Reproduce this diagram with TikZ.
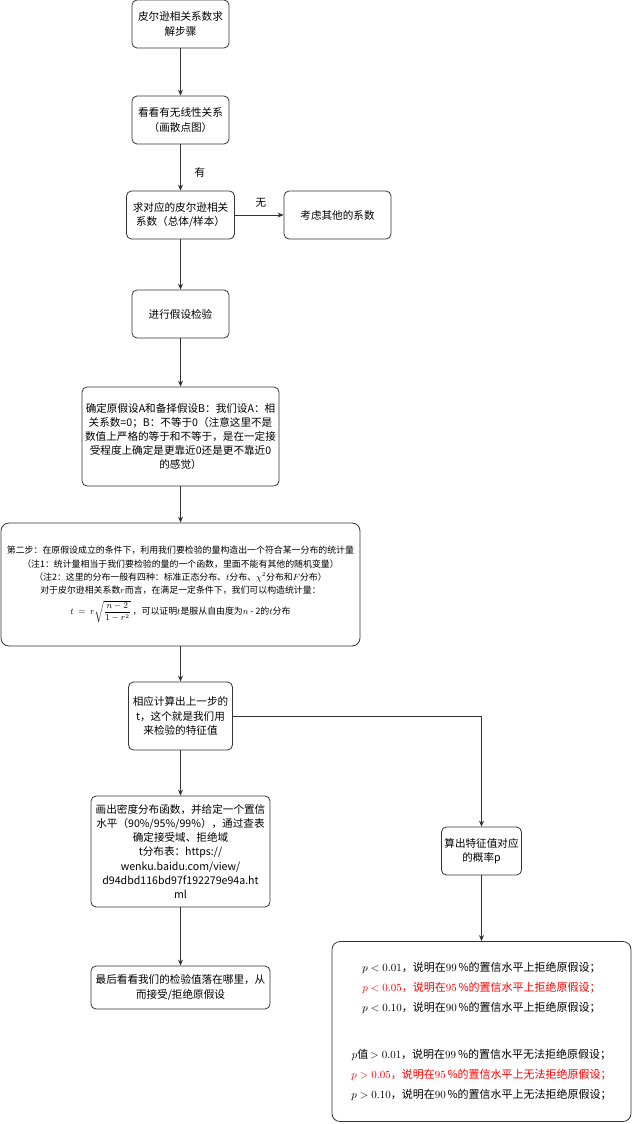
\documentclass[tikz,border=0pt]{standalone}
\usepackage{amsmath}
\usepackage{fontspec}
\setmainfont{Noto Sans CJK SC}
\usetikzlibrary{arrows.meta}
\definecolor{ln}{HTML}{333333}
\tikzset{
  box/.style={draw=ln, line width=0.8pt, rounded corners=5pt, align=center, inner sep=0pt,
    font=\fontsize{10.6}{14.2}\selectfont},
  arr/.style={draw=ln, line width=0.8pt, -{Stealth[length=6pt,width=5pt]}},
  lbl/.style={font=\fontsize{10.6}{13}\selectfont, inner sep=0pt}
}
\begin{document}
\begin{tikzpicture}[x=1pt,y=-1pt]
\useasboundingbox (0,0) rectangle (632,1124);
\node[box, minimum width=97pt, minimum height=48pt] (b1) at (180.5,24) {皮尔逊相关系数求\\解步骤};
\node[box, minimum width=97pt, minimum height=48pt] (b2) at (180.5,120) {看看有无线性关系\\（画散点图）};
\node[box, minimum width=108pt, minimum height=48pt] (b3) at (180.5,215) {求对应的皮尔逊相关\\系数（总体/样本）};
\node[box, minimum width=107pt, minimum height=48pt] (b4) at (337.5,215) {考虑其他的系数};
\node[box, minimum width=97pt, minimum height=48pt] (b5) at (180.5,314) {进行假设检验};
\node[box, minimum width=197pt, minimum height=99pt] (b6) at (180.5,436.5) {确定原假设A和备择假设B：我们设A：相\\关系数=0；B：不等于0（注意这里不是\\数值上严格的等于和不等于，是在一定接\\受程度上确定是更靠近0还是更不靠近0\\的感觉）};
\node[box, rounded corners=8pt, minimum width=359pt, minimum height=123pt, font=\fontsize{8.9}{13.4}\selectfont] (b7) at (180.5,584.5) {第二步：在原假设成立的条件下，利用我们要检验的量构造出一个符合某一分布的统计量\\（注1：统计量相当于我们要检验的量的一个函数，里面不能有其他的随机变量）\\（注2：这里的分布一般有四种：标准正态分布、$t$分布、$\chi^2$分布和$F$分布）\\对于皮尔逊相关系数$r$而言，在满足一定条件下，我们可以构造统计量：\\[5pt]$t\ =\ r\sqrt{\dfrac{n-2}{1-r^2}}$ ，可以证明$t$是服从自由度为$n$ - 2的$t$分布};
\node[box, minimum width=104pt, minimum height=68pt] (b8) at (180.5,716) {相应计算出上一步的\\t，这个就是我们用\\来检验的特征值};
\node[box, minimum width=179pt, minimum height=111pt] (b9) at (180.5,851.5) {画出密度分布函数，并给定一个置信\\水平（90\%/95\%/99\%），通过查表\\确定接受域、拒绝域\\t分布表：https://\\wenku.baidu.com/view/\\d94dbd116bd97f192279e94a.ht\\ml};
\node[box, minimum width=80pt, minimum height=48pt] (b10) at (481.5,851) {算出特征值对应\\的概率p};
\node[box, minimum width=179pt, minimum height=43pt] (b11) at (180.5,987.5) {最后看看我们的检验值落在哪里，从\\而接受/拒绝原假设};
\node[box, rounded corners=8pt, minimum width=299pt, minimum height=180pt, font=\fontsize{11}{20}\selectfont] (b12) at (481.5,1031.5) {$p<0.01$，说明在$99\,\%$的置信水平上拒绝原假设；\\\textcolor{red}{$p<0.05$，说明在$95\,\%$的置信水平上拒绝原假设；}\\$p<0.10$，说明在$90\,\%$的置信水平上拒绝原假设；\\[27pt]$p$值$\,>0.01$，说明在$99\,\%$的置信水平无法拒绝原假设；\\\textcolor{red}{$p>0.05$，说明在$95\,\%$的置信水平上无法拒绝原假设；}\\$p>0.10$，说明在$90\,\%$的置信水平上无法拒绝原假设；};
\draw[arr] (b1) -- (b2);
\draw[arr] (b2) -- (b3);
\node[lbl] (l1) at (200,172) {有};
\draw[arr] (b3) -- (b4);
\node[lbl] (l2) at (261,203) {无};
\draw[arr] (b3) -- (b5);
\draw[arr] (b5) -- (b6);
\draw[arr] (b6) -- (b7);
\draw[arr] (b7) -- (b8);
\draw[arr] (b8) -- (b9);
\draw[arr] (b8.east) -| (b10.north);
\draw[arr] (b9) -- (b11);
\draw[arr] (b10) -- (b12);
\end{tikzpicture}
\end{document}
